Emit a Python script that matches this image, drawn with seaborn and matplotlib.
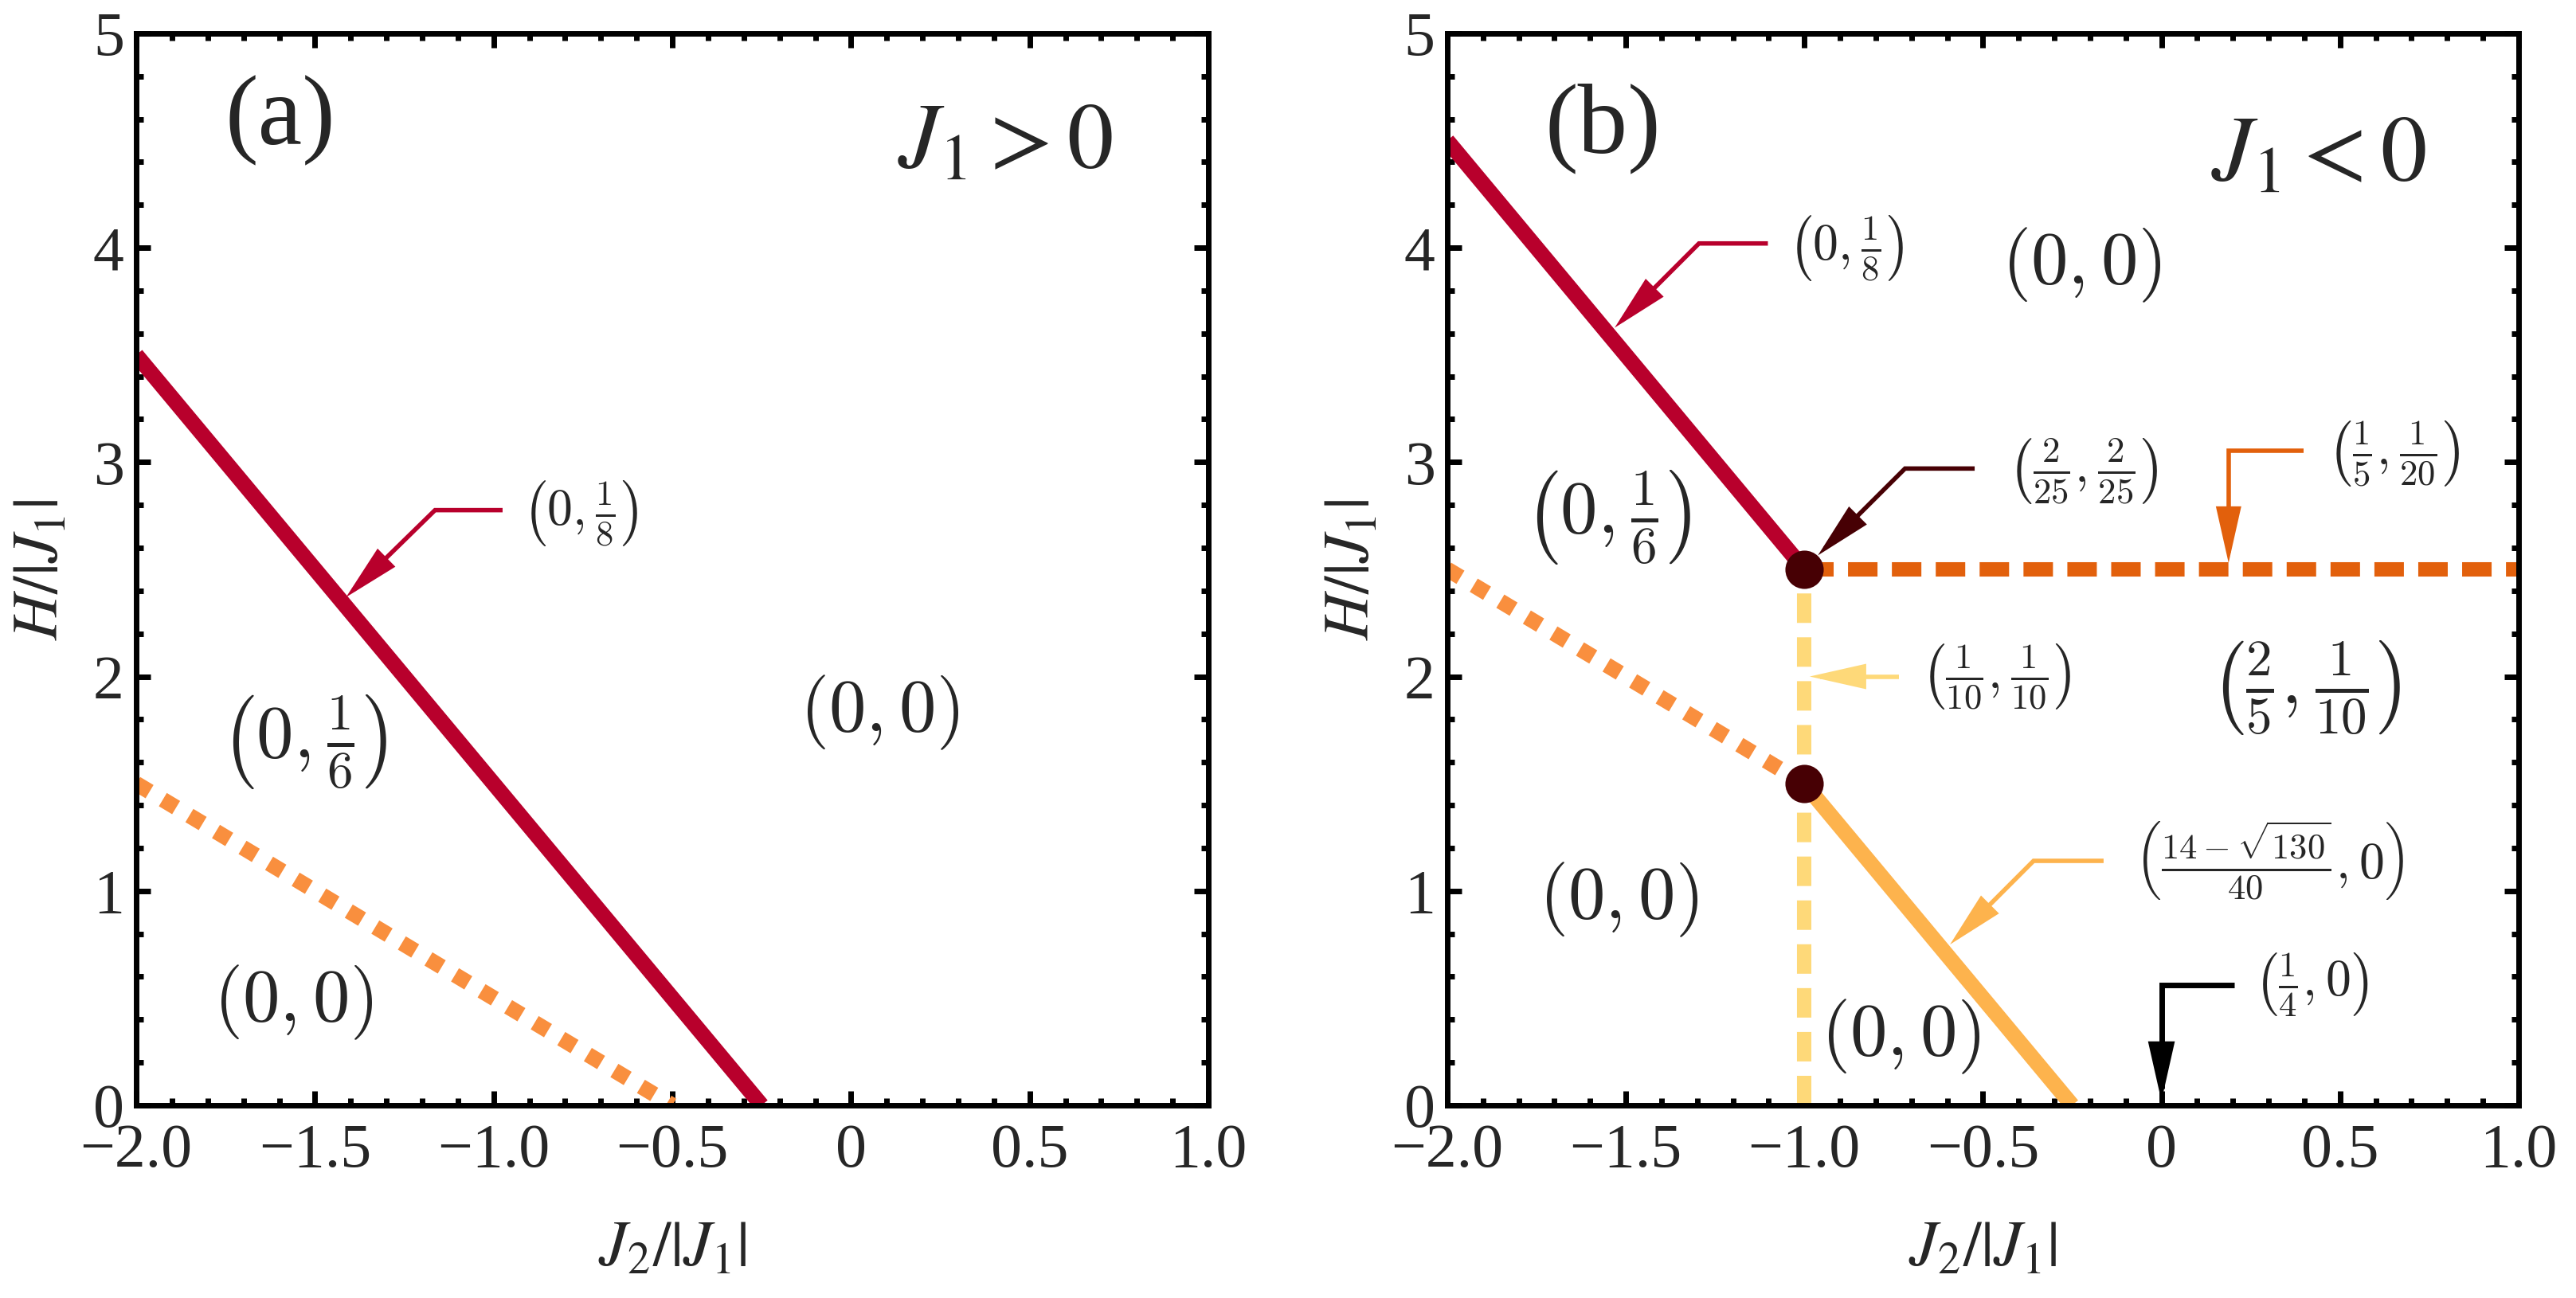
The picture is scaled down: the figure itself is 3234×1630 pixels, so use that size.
import matplotlib
matplotlib.use("Agg")
import matplotlib.pyplot as plt
import seaborn as sns
import pandas as pd
from matplotlib.patches import FancyArrowPatch
from matplotlib.path import Path

# ---- data -------------------------------------------------------------
x_ticks = [-2.0, -1.5, -1.0, -0.5, 0.0, 0.5, 1.0]
x_tick_labels = ["\u22122.0", "\u22121.5", "\u22121.0", "\u22120.5", "0", "0.5", "1.0"]
y_ticks = [0, 1, 2, 3, 4, 5]
y_tick_labels = ["0", "1", "2", "3", "4", "5"]

# panel (a): J1 > 0
a_red_j2 = [-2.0, -0.25]
a_red_h = [3.5, 0.0]
a_dot_j2 = [-2.0, -0.5]
a_dot_h = [1.5, 0.0]

# panel (b): J1 < 0
b_red_j2 = [-2.0, -1.0]
b_red_h = [4.5, 2.5]
b_dash_j2 = [-1.0, 1.0]
b_dash_h = [2.5, 2.5]
b_dot_j2 = [-2.0, -1.0]
b_dot_h = [2.5, 1.5]
b_light_j2 = [-1.0, -0.25]
b_light_h = [1.5, 0.0]
b_vert_j2 = [-1.0, -1.0]
b_vert_h = [0.0, 2.5]
b_pts_j2 = [-1.0, -1.0]
b_pts_h = [2.5, 1.5]

# region labels (text, x, y)
a_regions = [
    (r"$(0, 0)$", 0.08, 1.83),
    (r"$\left(0, \frac{1}{6}\right)$", -1.53, 1.69),
    (r"$(0,0)$", -1.56, 0.48),
]
b_regions = [
    (r"$(0, 0)$", -0.225, 3.92),
    (r"$\left(0, \frac{1}{6}\right)$", -1.55, 2.74),
    (r"$\left(\frac{2}{5}, \frac{1}{10}\right)$", 0.404, 1.945),
    (r"$(0, 0)$", -1.52, 0.96),
    (r"$(0,0)$", -0.73, 0.32),
]

# annotation arrows: (label, text x, text y, path, colour)
a_notes = [
    (r"$\left(0, \frac{1}{8}\right)$", -0.92, 2.76,
     [(-0.975, 2.776), (-1.164, 2.776), (-1.413, 2.37)], "#B8002C"),
]
b_notes = [
    (r"$\left(0, \frac{1}{8}\right)$", -1.045, 4.0,
     [(-1.102, 4.02), (-1.295, 4.02), (-1.531, 3.627)], "#B8002C"),
    (r"$\left(\frac{2}{25}, \frac{2}{25}\right)$", -0.43, 2.96,
     [(-0.523, 2.97), (-0.718, 2.97), (-0.962, 2.565)], "#470004"),
    (r"$\left(\frac{1}{5}, \frac{1}{20}\right)$", 0.465, 3.04,
     [(0.398, 3.055), (0.188, 3.055), (0.188, 2.53)], "#E2600C"),
    (r"$\left(\frac{1}{10}, \frac{1}{10}\right)$", -0.672, 2.0,
     [(-0.735, 2.0), (-0.985, 2.0)], "#FED979"),
    (r"$\left(\frac{14-\sqrt{130}}{40},0\right)$", -0.075, 1.14,
     [(-0.162, 1.14), (-0.358, 1.14), (-0.592, 0.75)], "#FDB34D"),
    (r"$\left(\frac{1}{4},0\right)$", 0.26, 0.56,
     [(0.204, 0.56), (0.0, 0.56), (0.0, 0.02)], "#000000"),
]

RED = "#B8002C"
DOT_ORANGE = "#F98F3E"
DASH_ORANGE = "#E2600C"
LIGHT_ORANGE = "#FDB34D"
YELLOW = "#FED979"
BROWN = "#470004"

# ---- style ------------------------------------------------------------
sns.set_theme(style="ticks")
plt.rcParams["font.family"] = ["Liberation Serif", "DejaVu Serif"]
plt.rcParams["mathtext.fontset"] = "cm"
plt.rcParams["axes.linewidth"] = 5
plt.rcParams["axes.edgecolor"] = "black"

fig = plt.figure(figsize=(32.34, 16.30), dpi=100)
ax_a = fig.add_axes([0.0529, 0.1485, 0.4162, 0.8258])
ax_b = fig.add_axes([0.5618, 0.1485, 0.4159, 0.8258])


def seg(ax, xs, ys, color, lw=14, ls="-", z=2):
    df = pd.DataFrame({"j2": xs, "h": ys})
    sns.lineplot(data=df, x="j2", y="h", ax=ax, color=color, lw=lw,
                 linestyle=ls, estimator=None, sort=False,
                 solid_capstyle="butt", dash_capstyle="butt", zorder=z)


def style_axes(ax):
    ax.set_xlim(-2.0, 1.0)
    ax.set_ylim(0, 5)
    ax.set_xticks(x_ticks, labels=x_tick_labels)
    ax.set_yticks(y_ticks, labels=y_tick_labels)
    ax.xaxis.set_minor_locator(matplotlib.ticker.MultipleLocator(0.1))
    ax.yaxis.set_minor_locator(matplotlib.ticker.MultipleLocator(0.2))
    ax.tick_params(which="both", direction="in", top=True, right=True,
                   width=5, color="black", labelsize=56)
    ax.tick_params(which="major", length=13)
    ax.tick_params(which="minor", length=6.5)
    ax.tick_params(axis="x", pad=16)
    ax.tick_params(axis="y", pad=11)
    for s in ax.spines.values():
        s.set_linewidth(5)
        s.set_color("black")
        s.set_zorder(10)
    ax.set_xlabel(r"$J_{\mathit{2}}/|J_{\mathit{1}}|$", fontsize=58,
                  math_fontfamily="stix")
    ax.set_ylabel(r"$H/|J_{\mathit{1}}|$", fontsize=58, math_fontfamily="stix")
    ax.xaxis.set_label_coords(0.5, -0.135)
    ax.yaxis.set_label_coords(-0.088, 0.5)
    ax.xaxis.label.set_va("center")
    ax.yaxis.label.set_va("center")


def note(ax, label, tx, ty, verts, color):
    lw = 5 if color == "#000000" else 4
    arr = FancyArrowPatch(path=Path(verts),
                          arrowstyle="-|>,head_length=2.0,head_width=0.45",
                          mutation_scale=20, lw=lw, color=color,
                          joinstyle="miter", capstyle="butt", zorder=6)
    ax.add_patch(arr)
    ax.text(tx, ty, label, fontsize=46, ha="left", va="center", zorder=7)


# ---- panel (a) --------------------------------------------------------
seg(ax_a, a_dot_j2, a_dot_h, DOT_ORANGE, lw=14, ls=(0, (1.0, 1.0)))
seg(ax_a, a_red_j2, a_red_h, RED)
style_axes(ax_a)
for lab, x, y in a_regions:
    ax_a.text(x, y, lab, fontsize=67, ha="center", va="center")
for n in a_notes:
    note(ax_a, *n)
ax_a.text(-1.597, 4.594, "(a)", fontsize=90, ha="center", va="center")
ax_a.text(0.43, 4.478, r"$J_1 > 0$", fontsize=84, ha="center", va="center",
          math_fontfamily="stix")

# ---- panel (b) --------------------------------------------------------
seg(ax_b, b_dot_j2, b_dot_h, DOT_ORANGE, lw=14, ls=(0, (1.0, 1.0)))
seg(ax_b, b_vert_j2, b_vert_h, YELLOW, lw=13, ls=(0, (2.05, 1.0)))
seg(ax_b, b_dash_j2, b_dash_h, DASH_ORANGE, lw=13, ls=(0, (2.05, 1.0)))
seg(ax_b, b_light_j2, b_light_h, LIGHT_ORANGE)
seg(ax_b, b_red_j2, b_red_h, RED)
sns.scatterplot(x=b_pts_j2, y=b_pts_h, ax=ax_b, s=1200, color=BROWN,
                linewidth=0, zorder=8)
style_axes(ax_b)
for lab, x, y in b_regions:
    ax_b.text(x, y, lab, fontsize=67, ha="center", va="center")
for n in b_notes:
    note(ax_b, *n)
ax_b.text(-1.565, 4.555, "(b)", fontsize=90, ha="center", va="center")
ax_b.text(0.44, 4.42, r"$J_1 < 0$", fontsize=84, ha="center", va="center",
          math_fontfamily="stix")

fig.savefig("out.png", dpi=100)
